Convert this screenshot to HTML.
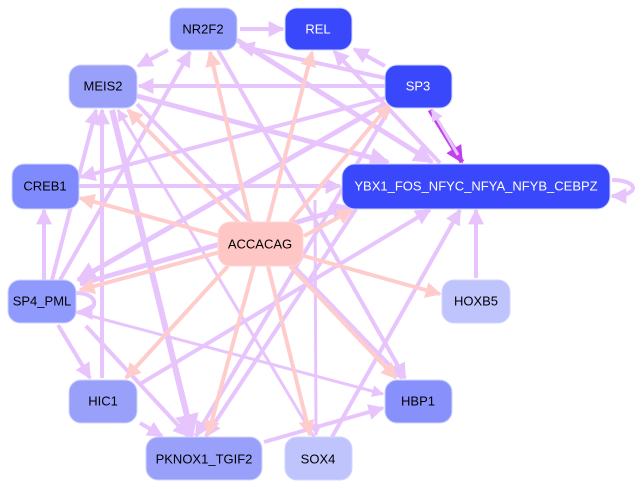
<!DOCTYPE html>
<html><head><meta charset="utf-8"><style>
html,body{margin:0;padding:0;background:#fff;}
svg{display:block;}
text{font-family:"Liberation Sans",sans-serif;font-size:13px;text-anchor:middle;dominant-baseline:central;}
</style></head><body>
<svg width="641" height="489" viewBox="0 0 641 489" xmlns="http://www.w3.org/2000/svg">
<defs>
<marker id="al" viewBox="0 0 10 10" refX="9" refY="5" markerWidth="4" markerHeight="4" orient="auto" markerUnits="strokeWidth"><path d="M0,0L10,5L0,10z" fill="#e8c4fc"/></marker>
<marker id="ap" viewBox="0 0 10 10" refX="9" refY="5" markerWidth="4" markerHeight="4" orient="auto" markerUnits="strokeWidth"><path d="M0,0L10,5L0,10z" fill="#ffcccc"/></marker>
<marker id="ad" viewBox="0 0 10 10" refX="9" refY="5" markerWidth="3.5" markerHeight="3.5" orient="auto" markerUnits="strokeWidth"><path d="M0,0L10,5L0,10z" fill="#c040f0"/></marker>
</defs>
<g stroke="#e8c4fc" stroke-width="4" fill="none" marker-end="url(#al)">
<line x1="240" y1="29" x2="283" y2="29"/>
<line x1="168" y1="50" x2="138" y2="66"/>
<line x1="385" y1="66" x2="354" y2="49"/>
<line x1="385" y1="78" x2="240" y2="46"/>
<line x1="385" y1="86" x2="139" y2="86"/>
<line x1="385" y1="98" x2="81" y2="177"/>
<line x1="385" y1="104" x2="78" y2="280" stroke-width="5"/>
<line x1="390" y1="108" x2="196" y2="436"/>
<line x1="137" y1="96" x2="388" y2="162" stroke-width="5"/>
<line x1="137" y1="104" x2="402" y2="378"/>
<line x1="440" y1="163" x2="334" y2="51"/>
<line x1="237" y1="40" x2="432" y2="162" stroke-width="5"/>
<line x1="218" y1="50" x2="405" y2="378"/>
<line x1="79" y1="186" x2="340" y2="186"/>
<line x1="60" y1="280" x2="190" y2="52"/>
<line x1="52" y1="280" x2="96" y2="110"/>
<line x1="44" y1="280" x2="44" y2="210"/>
<line x1="58" y1="325" x2="90" y2="378"/>
<line x1="76" y1="312" x2="383" y2="394" stroke-width="3"/>
<line x1="80" y1="284" x2="350" y2="207" stroke-width="5"/>
<line x1="86" y1="326" x2="188" y2="436"/>
<path d="M76,293 C100,293 100,312 78,312"/>
<line x1="102" y1="378" x2="102" y2="110"/>
<line x1="112" y1="110" x2="192" y2="436" stroke-width="6"/>
<line x1="140" y1="423" x2="162" y2="436"/>
<line x1="476" y1="278" x2="476" y2="210"/>
<line x1="332" y1="437" x2="460" y2="210"/>
<line x1="314" y1="437" x2="118" y2="110" stroke-width="3"/>
<line x1="264" y1="442" x2="383" y2="408"/>
<line x1="140" y1="384" x2="430" y2="210"/>
<line x1="356" y1="209" x2="206" y2="436"/>
<line x1="315" y1="200" x2="316" y2="435" stroke-width="3"/>
<path d="M612,180 C640,180 640,196 612,196"/>
</g>
<line x1="430" y1="110" x2="462" y2="162" stroke="#c040f0" stroke-width="5" marker-end="url(#ad)"/>
<line x1="458" y1="155" x2="432" y2="110" stroke="#e8c4fc" stroke-width="3" marker-end="url(#al)"/>
<g stroke="#ffcccc" stroke-width="4" fill="none" marker-end="url(#ap)">
<line x1="250" y1="222" x2="210" y2="52"/>
<line x1="268" y1="222" x2="312" y2="52"/>
<line x1="240" y1="224" x2="128" y2="110"/>
<line x1="290" y1="222" x2="390" y2="104"/>
<line x1="220" y1="236" x2="80" y2="198"/>
<line x1="304" y1="236" x2="352" y2="210"/>
<line x1="220" y1="252" x2="80" y2="290"/>
<line x1="304" y1="256" x2="440" y2="294"/>
<line x1="228" y1="266" x2="126" y2="378"/>
<line x1="290" y1="266" x2="396" y2="378"/>
<line x1="254" y1="266" x2="208" y2="435"/>
<line x1="268" y1="266" x2="310" y2="435"/>
</g>
<g stroke="#d0d4ff" stroke-width="1">
<rect x="170" y="8" width="67" height="42" rx="12" fill="#8f9afc"/>
<rect x="285" y="8" width="67" height="42" rx="12" fill="#3a48fc"/>
<rect x="69" y="65" width="68" height="43" rx="12" fill="#98a0fa"/>
<rect x="385" y="65" width="67" height="43" rx="12" fill="#3a48fc"/>
<rect x="12" y="164" width="67" height="45" rx="12" fill="#7f8afc"/>
<rect x="342" y="164" width="268" height="45" rx="13" fill="#3a48fc"/>
<rect x="218" y="222" width="85" height="44" rx="12" fill="#ffc6c6" stroke="#ffd8d8"/>
<rect x="8" y="280" width="68" height="43" rx="12" fill="#8f9afc"/>
<rect x="442" y="280" width="68" height="43" rx="12" fill="#c0c4fc"/>
<rect x="69" y="380" width="68" height="43" rx="12" fill="#98a0fa"/>
<rect x="385" y="380" width="67" height="43" rx="12" fill="#8890fc"/>
<rect x="146" y="437" width="116" height="43" rx="12" fill="#98a0fa"/>
<rect x="285" y="437" width="67" height="43" rx="12" fill="#c0c4fc"/>
</g>
<text x="203" y="29">NR2F2</text>
<text x="318" y="29" fill="#fff">REL</text>
<text x="103" y="86">MEIS2</text>
<text x="418" y="86" fill="#fff">SP3</text>
<text x="45" y="186">CREB1</text>
<text x="476" y="186" fill="#fff">YBX1_FOS_NFYC_NFYA_NFYB_CEBPZ</text>
<text x="260" y="244">ACCACAG</text>
<text x="42" y="301">SP4_PML</text>
<text x="476" y="301">HOXB5</text>
<text x="103" y="401">HIC1</text>
<text x="418" y="401">HBP1</text>
<text x="204" y="459">PKNOX1_TGIF2</text>
<text x="318" y="459">SOX4</text>
</svg>
</body></html>
